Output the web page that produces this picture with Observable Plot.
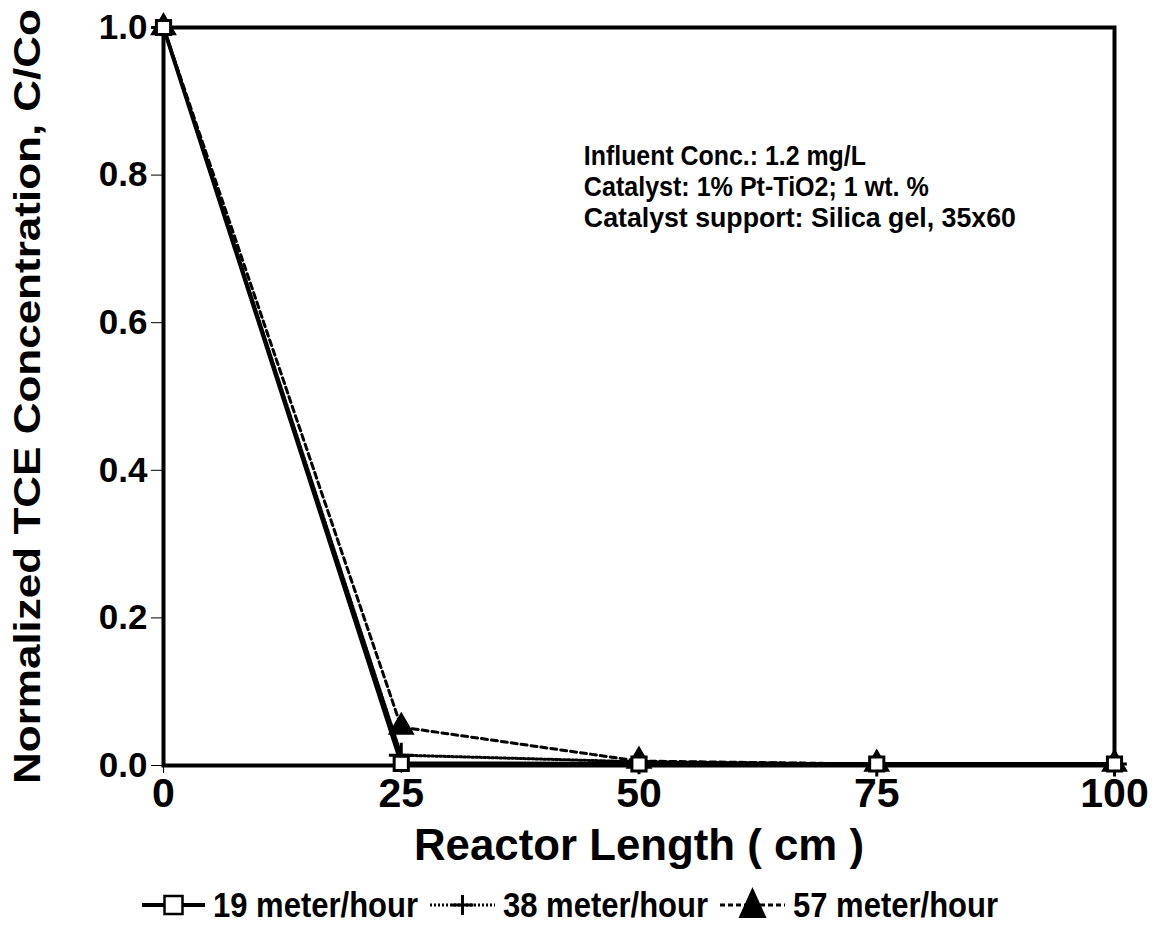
<!DOCTYPE html>
<html><head><meta charset="utf-8">
<script src="https://cdn.jsdelivr.net/npm/d3@7"></script>
<script src="https://cdn.jsdelivr.net/npm/@observablehq/plot@0.6"></script>
<style>
body{margin:0;background:#fff;font-family:"Liberation Sans",Arial,sans-serif;}
#chart svg, #legend svg{display:block;}
</style></head>
<body>
<div id="chart"></div>
<div id="legend"></div>
<script>
const lengths = [0, 25, 50, 75, 100];
const v19 = [1.0, 0.003, 0.002, 0.002, 0.002];
const v38 = [1.0, 0.014, 0.005, 0.002, 0.002];
const v57 = [1.0, 0.052, 0.006, 0.002, 0.002];
const xTicks = [0, 25, 50, 75, 100];
const yTicks = [0, 0.2, 0.4, 0.6, 0.8, 1.0];
const notes = ["Influent Conc.: 1.2 mg/L", "Catalyst: 1% Pt-TiO2; 1 wt. %", "Catalyst support: Silica gel, 35x60"];
const seriesNames = ["19 meter/hour", "38 meter/hour", "57 meter/hour"];
const yLabel = "Normalized TCE Concentration, C/Co";
const xLabel = "Reactor Length ( cm )";

const mk = (vals) => lengths.map((x, i) => ({x, y: vals[i]}));
const d19 = mk(v19), d38 = mk(v38), d57 = mk(v57);

const chart = Plot.plot({
  width: 1154, height: 870,
  marginLeft: 163, marginRight: 40, marginTop: 27, marginBottom: 105,
  x: {domain: [0, 100]},
  y: {domain: [0, 1]},
  style: {fontFamily: "'Liberation Sans', Arial, sans-serif", fontWeight: "bold", color: "#000", background: "#fff"},
  marks: [
    Plot.frame({stroke: "#000", strokeWidth: 4}),
    Plot.axisX({ticks: xTicks, tickSize: 8, tickPadding: 4, fontSize: 41, fontWeight: "bold", tickFormat: d => d3.format("d")(d), label: null}),
    Plot.axisY({ticks: yTicks, tickSize: 12, tickPadding: 4, fontSize: 35, fontWeight: "bold", tickFormat: d3.format(".1f"), label: null}),
    Plot.text([xLabel], {frameAnchor: "bottom", x: 50, dy: 94, fontSize: 44, fontWeight: "bold", textAnchor: "middle", className: "xlab"}),
    Plot.text([yLabel], {frameAnchor: "left", dx: -135, rotate: -90, fontSize: 37, fontWeight: "bold", textAnchor: "middle", className: "ylab"}),
    Plot.text([notes[0]], {x: 44.2, y: 0.826, textAnchor: "start", fontSize: 27, fontWeight: "bold", className: "note0"}),
    Plot.text([notes[1]], {x: 44.2, y: 0.784, textAnchor: "start", fontSize: 27, fontWeight: "bold", className: "note1"}),
    Plot.text([notes[2]], {x: 44.2, y: 0.742, textAnchor: "start", fontSize: 27, fontWeight: "bold", className: "note2"}),
    Plot.line(d57, {x: "x", y: "y", stroke: "#000", strokeWidth: 3, strokeDasharray: "6,4"}),
    Plot.line(d38, {x: "x", y: "y", stroke: "#000", strokeWidth: 3, strokeDasharray: "2,2"}),
    Plot.line(d19, {x: "x", y: "y", stroke: "#000", strokeWidth: 4}),
    Plot.dot(d57, {x: "x", y: "y", symbol: "triangle", r: 9, fill: "#000", stroke: "#000"}),
    Plot.dot(d38, {x: "x", y: "y", symbol: "plus", r: 8, stroke: "#000", strokeWidth: 3}),
    Plot.dot(d19, {x: "x", y: "y", symbol: "square", r: 8, fill: "#fff", stroke: "#000", strokeWidth: 3})
  ]
});
const fit = (cls, len) => d3.select(chart).selectAll(`g.${cls} text`).attr("textLength", len).attr("lengthAdjust", "spacingAndGlyphs");
fit("ylab", 775);
fit("xlab", 450);
fit("note0", 282);
fit("note1", 345);
fit("note2", 432);
document.getElementById("chart").appendChild(chart);

// legend (below the chart SVG)
const leg = d3.select("#legend").append("svg").attr("width", 1154).attr("height", 77);
const cy = 35;
const items = [
  {x0: 142, x1: 205, dash: null, sw: 4, sym: "square", tx: 213, tl: 205},
  {x0: 430, x1: 495, dash: "2,2", sw: 3, sym: "plus", tx: 503, tl: 205},
  {x0: 720, x1: 785, dash: "5,3", sw: 3, sym: "triangle", tx: 793, tl: 205}
];
items.forEach((it, i) => {
  leg.append("line").attr("x1", it.x0).attr("x2", it.x1).attr("y1", cy).attr("y2", cy)
    .attr("stroke", "#000").attr("stroke-width", it.sw).attr("stroke-dasharray", it.dash);
  const cx = (it.x0 + it.x1) / 2;
  if (it.sym === "square") {
    leg.append("rect").attr("x", cx - 9).attr("y", cy - 9).attr("width", 18).attr("height", 18).attr("fill", "#fff").attr("stroke", "#000").attr("stroke-width", 2.5);
  } else if (it.sym === "plus") {
    leg.append("path").attr("d", `M${cx-11},${cy}H${cx+11}M${cx},${cy-10}V${cy+10}`).attr("stroke", "#000").attr("stroke-width", 3);
  } else {
    leg.append("path").attr("d", `M${cx},${cy-18}L${cx+14},${cy+13}H${cx-14}Z`).attr("fill", "#000");
  }
  leg.append("text").attr("x", it.tx).attr("y", cy + 12).text(seriesNames[i])
    .attr("font-family", "'Liberation Sans', Arial, sans-serif").attr("font-weight", "bold").attr("font-size", 35)
    .attr("textLength", it.tl).attr("lengthAdjust", "spacingAndGlyphs");
});
</script>
</body></html>
